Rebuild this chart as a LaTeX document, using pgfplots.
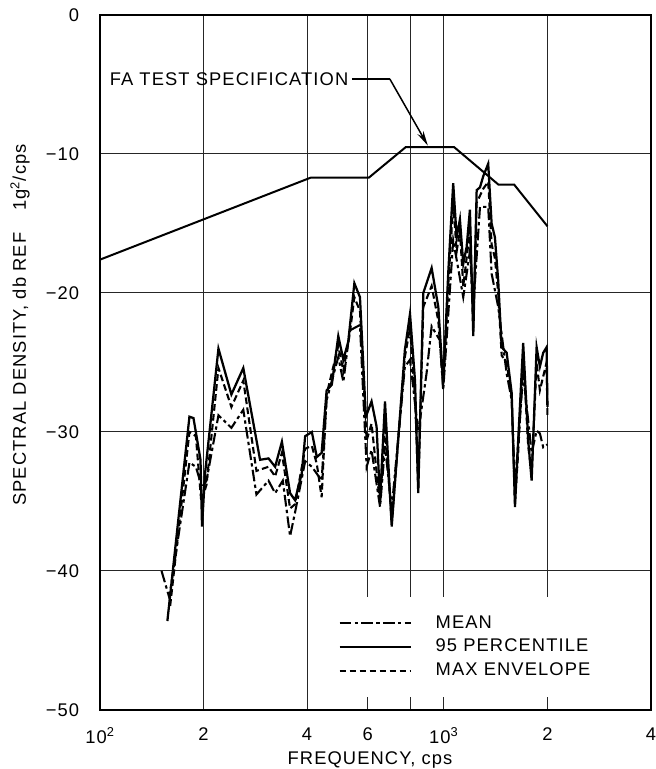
\documentclass[border=0pt]{standalone}
\usepackage{fontspec}
\setmainfont{Liberation Sans}[LetterSpace=6]
\usepackage{pgfplots}
\pgfplotsset{compat=1.18}
\usetikzlibrary{arrows.meta}

\newcommand\lbl{\fontsize{11}{13.2}\selectfont}

\begin{document}
\begin{tikzpicture}
\begin{axis}[
  xmode=log,
  width=330.6pt, height=417pt, scale only axis,
  xmin=100, xmax=4000, ymin=-50, ymax=0,
  xtick={100,200,400,600,800,1000,2000,4000},
  xticklabels={10\textsuperscript{2},2,4,6,,10\textsuperscript{3},2,4},
  minor xtick={},
  ytick={-50,-40,-30,-20,-10,0},
  yticklabels={−50,−40,−30,−20,−10,0},
  grid=major,
  major grid style={black!85, line width=0.6pt},
  axis line style={line width=0.9pt},
  major tick length=0pt, minor tick length=0pt,
  tick label style={font=\lbl},
  xticklabel style={yshift=-7pt},
  yticklabel style={xshift=-9pt},
  xlabel={FREQUENCY,\ cps},
  ylabel={SPECTRAL DENSITY,\ db REF\hspace{1.2em}1g\textsuperscript{2}/cps},
  label style={font=\lbl},
  xlabel style={at={(axis description cs:0.49,-0.072)}, anchor=center},
  ylabel style={at={(axis description cs:-0.145,0.554)}, anchor=center},
  legend style={at={(axis description cs:0.42,0.163)}, anchor=north west,
    draw=none, fill=white, font=\lbl, cells={anchor=west},
    inner xsep=4pt, inner ysep=9pt, row sep=1.2pt},
  legend image code/.code={\draw[#1] (0pt,0pt) -- (43pt,0pt);},
]
% FA test specification
\addplot[black, line width=1.2pt, forget plot] coordinates {
  (100,-17.6) (410,-11.7) (605,-11.7) (775,-9.5) (1070,-9.5)
  (1440,-12.2) (1600,-12.2) (2000,-15.2)
};

% mean
\addplot[black, line width=1.25pt, dash pattern=on 7pt off 2pt on 2pt off 2pt] coordinates {
  (151,-40.0) (159,-41.9) (182,-32.2) (190,-32.5) (198,-34.0) (204,-33.5)
  (221,-28.8) (241,-29.7) (261,-28.4) (285,-34.5) (309,-33.5) (323,-34.4)
  (340,-33.5) (357,-37.5) (369,-35.8) (395,-32.1) (413,-32.5) (427,-33.0)
  (441,-33.5) (456,-27.7) (493,-24.6) (510,-26.4) (532,-22.7) (570,-22.3)
  (596,-32.5) (616,-31.3) (652,-35.4) (674,-31.0) (705,-35.5) (770,-25.3)
  (797,-24.8) (842,-30.0) (890,-25.8) (921,-22.4) (973,-23.4) (995,-27.0)
  (1064,-16.2) (1138,-20.3) (1190,-17.0) (1217,-21.0) (1273,-13.8) (1345,-13.8)
  (1376,-18.6) (1438,-21.0) (1522,-25.8) (1574,-27.7) (1609,-34.0) (1700,-25.8)
  (1799,-31.5) (1860,-29.9) (1901,-30.1) (1944,-31.1) (2000,-30.9)
};

% 95 percentile
\addplot[black, line width=1.35pt] coordinates {
  (157,-43.6) (182,-28.9) (187,-29.0) (196,-32.0) (198,-36.8) (202,-33.0)
  (221,-24.0) (241,-27.3) (261,-25.4) (292,-32.0) (309,-31.9) (323,-32.5)
  (338,-30.7) (357,-34.4) (369,-34.9) (386,-33.0) (395,-30.3) (413,-30.0)
  (427,-31.8) (441,-31.5) (456,-27.0) (472,-26.6) (493,-23.1) (510,-24.8)
  (527,-23.5) (549,-19.3) (570,-20.3) (593,-28.9) (616,-27.8) (637,-29.6)
  (652,-34.9) (674,-27.8) (705,-36.8) (770,-24.1) (797,-21.5) (824,-26.3)
  (842,-34.4) (871,-20.0) (921,-18.2) (963,-21.0) (995,-26.5) (1029,-18.6)
  (1064,-12.1) (1089,-16.0) (1113,-14.7) (1138,-17.9) (1164,-16.7) (1190,-14.0)
  (1217,-23.1) (1245,-12.6) (1273,-12.4) (1301,-11.6) (1345,-10.7) (1376,-15.0)
  (1407,-16.0) (1438,-19.1) (1472,-23.9) (1522,-24.3) (1574,-27.2) (1609,-35.4)
  (1644,-30.6) (1700,-23.6) (1758,-30.6) (1799,-33.5) (1860,-23.9) (1901,-25.3)
  (1944,-24.3) (1989,-23.9) (2000,-28.2)
};

% max envelope
\addplot[black, line width=1.25pt, dash pattern=on 4pt off 2pt] coordinates {
  (160,-42.5) (182,-30.0) (190,-30.3) (197,-35.0) (204,-33.8) (221,-25.4)
  (241,-28.2) (261,-26.3) (285,-32.8) (309,-32.5) (323,-33.2) (338,-31.5)
  (357,-35.5) (369,-35.2) (395,-31.2) (413,-31.0) (427,-32.3) (441,-34.7)
  (456,-27.3) (493,-23.8) (510,-25.6) (532,-23.0) (549,-20.3) (570,-21.3)
  (596,-30.6) (616,-29.4) (652,-35.2) (674,-29.5) (705,-36.5) (770,-24.6)
  (797,-22.5) (824,-27.5) (842,-34.0) (871,-21.0) (921,-19.5) (963,-22.0)
  (995,-26.8) (1029,-19.5) (1064,-13.5) (1089,-17.0) (1113,-15.5) (1138,-19.5)
  (1164,-17.5) (1190,-15.5) (1217,-22.5) (1245,-13.5) (1273,-13.0) (1301,-12.5)
  (1345,-12.0) (1376,-16.5) (1407,-17.5) (1438,-20.0) (1472,-24.5) (1522,-25.0)
  (1574,-27.5) (1609,-35.0) (1644,-31.5) (1700,-24.5) (1758,-31.0) (1799,-33.0)
  (1860,-25.0) (1901,-27.0) (1944,-26.0) (1989,-25.0) (2000,-29.0)
};

\legend{\hspace{12pt}MEAN, \hspace{12pt}95 PERCENTILE, \hspace{12pt}MAX ENVELOPE}

\node[anchor=east, font=\lbl, inner sep=2pt] at (axis cs:540,-4.6) {FA TEST SPECIFICATION};
\draw[line width=0.9pt] (axis cs:540,-4.6) -- (axis cs:696,-4.6);
\draw[line width=0.9pt, -{Stealth[length=9pt, width=4pt]}] (axis cs:696,-4.6) -- (axis cs:898,-9.4);
\end{axis}
\pgfresetboundingbox
\path[use as bounding box] ([shift={(-60pt,-35.4pt)}]current axis.south west)
  rectangle ([shift={(3pt,9pt)}]current axis.north east);
\end{tikzpicture}
\end{document}
